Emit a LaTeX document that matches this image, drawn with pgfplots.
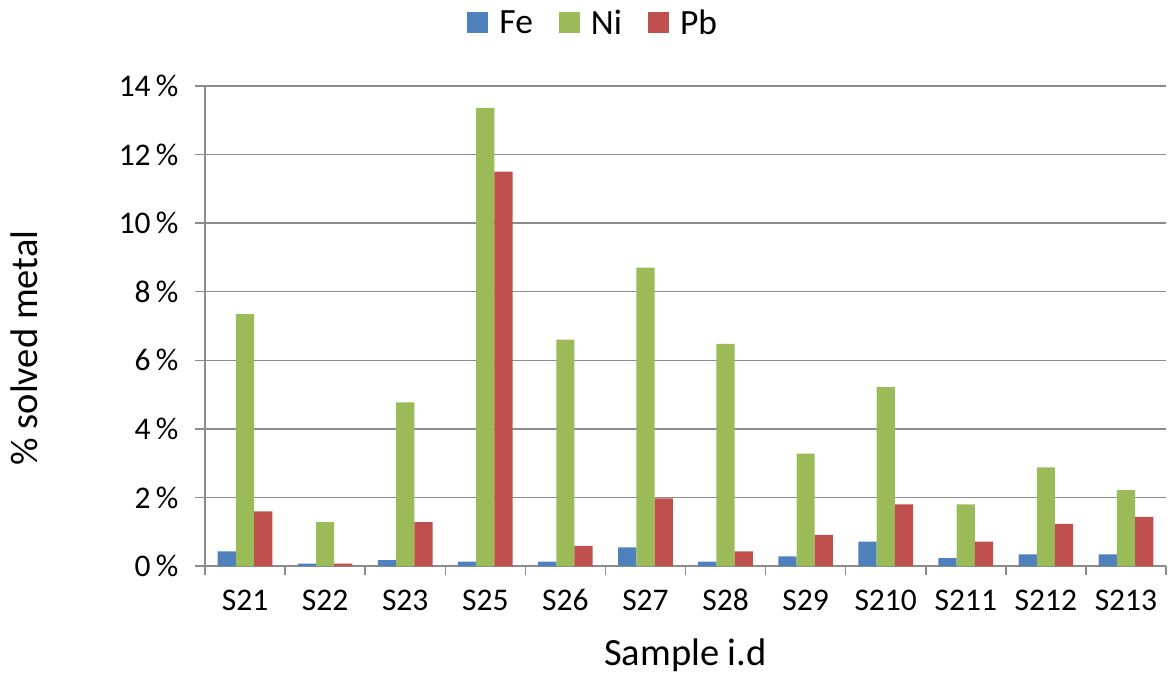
\documentclass[border=0pt]{standalone}
\usepackage{pgfplots}
\pgfplotsset{compat=1.18}
\usepackage{fontspec}
\setmainfont{Carlito}
\definecolor{cFe}{HTML}{4F81BD}
\definecolor{cNi}{HTML}{9BBB59}
\definecolor{cPb}{HTML}{C0504D}
\definecolor{gridc}{HTML}{8C8C8C}
\begin{document}
\begin{tikzpicture}[x=1pt,y=1pt]
\begin{axis}[
  name=ax, at={(0,0)}, anchor=south west,
  scale only axis, width=961pt, height=480pt,
  ymin=0, ymax=14, xmin=-0.5, xmax=11.5,
  ybar=0pt, bar width=18.2pt,
  axis x line*=bottom, axis y line*=left,
  axis line style={gridc, line width=1.5pt},
  ymajorgrids, grid style={gridc, line width=1.5pt},
  ytick={0,2,4,6,8,10,12,14},
  yticklabels={0\,\%,2\,\%,4\,\%,6\,\%,8\,\%,10\,\%,12\,\%,14\,\%},
  xtick={0,...,11},
  xticklabels={S21,S22,S23,S25,S26,S27,S28,S29,S210,S211,S212,S213},
  minor xtick={-0.5,0.5,...,11.5},
  tick align=outside, tick pos=left,
  major tick length=10pt, minor tick length=9pt,
  x tick style={draw=none}, minor x tick style={draw=gridc, line width=1.5pt},
  y tick style={gridc, line width=1.5pt},
  ticklabel style={font=\fontsize{31.5}{38}\selectfont, text=black},
  xticklabel style={text height=21pt, text depth=0pt, yshift=-10pt},
  yticklabel style={xshift=-13pt},
  legend columns=-1,
  legend style={at={(0.404,1)}, anchor=center, yshift=63pt, draw=none, fill=none,
    font=\fontsize{35.5}{42}\selectfont,
    /tikz/every odd column/.append style={column sep=9pt},
    /tikz/every even column/.append style={column sep=24pt}},
  legend image code/.code={\fill[#1,draw=none] (0pt,-10pt) rectangle (21pt,11pt);},
]
\addplot[fill=cFe, draw=none] coordinates {(0,0.43) (1,0.07) (2,0.17) (3,0.13) (4,0.13) (5,0.54) (6,0.13) (7,0.28) (8,0.71) (9,0.23) (10,0.34) (11,0.34)};
\addplot[fill=cNi, draw=none] coordinates {(0,7.35) (1,1.28) (2,4.77) (3,13.36) (4,6.60) (5,8.70) (6,6.48) (7,3.28) (8,5.22) (9,1.80) (10,2.88) (11,2.21)};
\addplot[fill=cPb, draw=none] coordinates {(0,1.59) (1,0.07) (2,1.28) (3,11.50) (4,0.59) (5,1.97) (6,0.43) (7,0.91) (8,1.80) (9,0.71) (10,1.23) (11,1.43)};
\legend{Fe,Ni,Pb}
\end{axis}
\node[font=\fontsize{38.5}{46}\selectfont] at (480.5,-89) {Sample i.d};
\node[rotate=90, font=\fontsize{38.5}{46}\selectfont] at (-181,218) {\% solved metal};
\pgfresetboundingbox
\path (-205,-112) rectangle (963,566);
\end{tikzpicture}
\end{document}
